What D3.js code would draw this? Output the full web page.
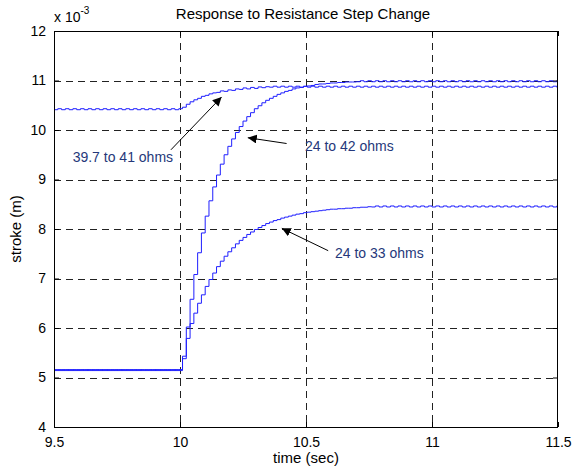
<!DOCTYPE html>
<html><head><meta charset="utf-8">
<script src="https://cdn.jsdelivr.net/npm/d3@7"></script>
<style>body{margin:0;background:#fff} svg{display:block;font-family:Arial,"Liberation Sans",sans-serif}</style>
</head><body><svg id="c" width="574" height="470"></svg>
<script>
// sample times (sec)
const times = [
9.5,9.515,9.53,9.545,9.56,9.575,9.59,9.605,9.62,9.635,
9.65,9.665,9.68,9.695,9.71,9.725,9.74,9.755,9.77,9.785,
9.8,9.815,9.83,9.845,9.86,9.875,9.89,9.905,9.92,9.935,
9.95,9.965,9.98,9.995,
10.01,10.025,10.04,10.055,10.07,10.085,
10.1,10.115,10.13,10.145,10.16,10.175,10.19,10.205,10.22,10.235,
10.25,10.265,10.28,10.295,10.31,10.325,10.34,10.355,10.37,10.385,
10.4,10.415,10.43,10.445,10.46,10.475,10.49,10.505,10.52,10.535,
10.55,10.565,10.58,10.595,10.61,10.625,10.64,10.655,10.67,10.685,
10.7,10.715,10.73,10.745,10.76,10.775,10.79,10.805,10.82,10.835,
10.85,10.865,10.88,10.895,10.91,10.925,10.94,10.955,10.97,10.985,
11,11.015,11.03,11.045,11.06,11.075,11.09,11.105,11.12,11.135,
11.15,11.165,11.18,11.195,11.21,11.225,11.24,11.255,11.27,11.285,
11.3,11.315,11.33,11.345,11.36,11.375,11.39,11.405,11.42,11.435,
11.45,11.465,11.48,11.495,
11.5];

// stroke values (x 10^-3 m)
const stroke39to41 = [
10.41,10.43,10.41,10.43,10.41,10.43,10.41,10.43,10.41,10.43,
10.41,10.43,10.41,10.43,10.41,10.43,10.41,10.43,10.41,10.43,
10.41,10.43,10.41,10.43,10.41,10.43,10.41,10.43,10.41,10.43,
10.41,10.43,10.41,10.43,
10.46,10.52,10.57,10.61,10.64,10.68,10.70,10.73,10.75,10.76,
10.79,10.78,10.81,10.80,10.83,10.82,10.85,10.83,10.86,10.84,10.87,
10.855,10.875,
10.865,10.885,10.865,10.885,10.865,10.885,10.865,10.885,10.865,10.885,
10.865,10.885,10.865,10.885,10.865,10.885,10.865,10.885,10.865,10.885,
10.865,10.885,10.865,10.885,10.865,10.885,10.865,10.885,10.865,10.885,
10.865,10.885,10.865,10.885,10.865,10.885,10.865,10.885,10.865,10.885,
10.865,10.885,10.865,10.885,10.865,10.885,10.865,10.885,10.865,10.885,
10.865,10.885,10.865,10.885,10.865,10.885,10.865,10.885,10.865,10.885,
10.865,10.885,10.865,10.885,10.865,10.885,10.865,10.885,10.865,10.885,
10.865,10.885,10.865,10.885,10.865,10.885,10.865,
10.875];

const stroke24to42 = [
5.14,5.16,5.14,5.16,5.14,5.16,5.14,5.16,5.14,5.16,
5.14,5.16,5.14,5.16,5.14,5.16,5.14,5.16,5.14,5.16,
5.14,5.16,5.14,5.16,5.14,5.16,5.14,5.16,5.14,5.16,
5.14,5.16,5.14,5.16,
5.38,6.02,6.58,7.08,7.52,7.92,8.26,8.57,8.85,9.09,
9.31,9.50,9.67,9.82,9.95,10.07,10.18,10.27,10.35,10.43,
10.49,10.55,10.60,10.64,10.68,10.72,10.75,10.78,10.80,10.83,
10.85,10.86,10.88,10.89,10.90,10.92,10.93,10.93,10.94,10.95,
10.95,10.96,10.96,10.97,10.97,10.97,
10.975,10.995,10.975,10.995,10.975,10.995,10.975,10.995,10.975,10.995,
10.975,10.995,10.975,10.995,10.975,10.995,10.975,10.995,10.975,10.995,
10.975,10.995,10.975,10.995,10.975,10.995,10.975,10.995,10.975,10.995,
10.975,10.995,10.975,10.995,10.975,10.995,10.975,10.995,10.975,10.995,
10.975,10.995,10.975,10.995,10.975,10.995,10.975,10.995,10.975,10.995,
10.975,10.995,10.975,10.995,
10.985];

const stroke24to33 = [
5.16,5.14,5.16,5.14,5.16,5.14,5.16,5.14,5.16,5.14,
5.16,5.14,5.16,5.14,5.16,5.14,5.16,5.14,5.16,5.14,
5.16,5.14,5.16,5.14,5.16,5.14,5.16,5.14,5.16,5.14,
5.16,5.14,5.16,5.14,
5.43,5.79,6.09,6.30,6.50,6.67,6.84,6.98,7.11,7.24,
7.35,7.45,7.54,7.62,7.70,7.77,7.83,7.89,7.94,7.99,
8.03,8.07,8.11,8.14,8.17,8.19,8.22,8.24,8.26,8.28,
8.30,8.31,8.33,8.34,8.35,8.36,8.37,8.38,8.39,8.40,
8.40,8.41,8.41,8.42,8.42,8.43,
8.43,8.44,8.44,8.45,
8.445,8.465,8.445,8.465,8.445,8.465,8.445,8.465,8.445,8.465,
8.445,8.465,8.445,8.465,8.445,8.465,8.445,8.465,8.445,8.465,
8.445,8.465,8.445,8.465,8.445,8.465,8.445,8.465,8.445,8.465,
8.445,8.465,8.445,8.465,8.445,8.465,8.445,8.465,8.445,8.465,
8.445,8.465,8.445,8.465,8.445,8.465,8.445,8.465,8.445,8.465,
8.455];

const seriesList = [stroke39to41, stroke24to42, stroke24to33];

const xTicks = [9.5, 10, 10.5, 11, 11.5];
const xTickLabels = ["9.5", "10", "10.5", "11", "11.5"];
const yTicks = [4, 5, 6, 7, 8, 9, 10, 11, 12];
const yTickLabels = ["4", "5", "6", "7", "8", "9", "10", "11", "12"];

// annotations: text anchor point and arrow tail -> tip (data units)
const annoLabels = ["39.7 to 41 ohms", "24 to 42 ohms", "24 to 33 ohms"];
const annoTextPos = [[9.574, 9.36], [10.496, 9.566], [10.615, 7.424]];
const annoArrowTail = [[9.964, 9.60], [10.423, 9.727], [10.588, 7.562]];
const annoArrowTip = [[10.165, 10.667], [10.269, 9.844], [10.404, 8.014]];

const svg = d3.select("#c");
const m = {l: 54, r: 558, t: 31, b: 427};
const x = d3.scaleLinear().domain([9.5, 11.5]).range([m.l, m.r]);
const y = d3.scaleLinear().domain([4, 12]).range([m.b, m.t]);

svg.append("rect").attr("width", 574).attr("height", 470).attr("fill", "#fff");
svg.append("rect").attr("x", m.l).attr("y", m.t).attr("width", m.r - m.l).attr("height", m.b - m.t).attr("fill", "#fff");

// grid
const grid = svg.append("g").attr("stroke", "#222").attr("stroke-width", 1).attr("stroke-dasharray", "7,5").attr("shape-rendering", "crispEdges");
grid.selectAll("line.gx").data(xTicks.slice(1, -1)).join("line")
  .attr("x1", d => Math.round(x(d)) + 0.5).attr("x2", d => Math.round(x(d)) + 0.5)
  .attr("y1", m.t).attr("y2", m.b);
grid.selectAll("line.gy").data(yTicks.slice(1, -1)).join("line")
  .attr("x1", m.l).attr("x2", m.r)
  .attr("y1", d => Math.round(y(d)) + 0.5).attr("y2", d => Math.round(y(d)) + 0.5);

// series
const line = d3.line().x(d => x(d[0])).y(d => y(d[1])).curve(d3.curveStepAfter);
const clip = svg.append("clipPath").attr("id", "pc").append("rect")
  .attr("x", m.l).attr("y", m.t).attr("width", m.r - m.l).attr("height", m.b - m.t);
svg.append("g").attr("clip-path", "url(#pc)").selectAll("path").data(seriesList).join("path")
  .attr("d", s => line(d3.zip(times, s)))
  .attr("fill", "none").attr("stroke", "#1f1fff").attr("stroke-width", 1);

// axes box
const axB = d3.axisBottom(x).tickValues(xTicks).tickFormat((d, i) => xTickLabels[i]).tickSize(-5).tickPadding(10);
const axL = d3.axisLeft(y).tickValues(yTicks).tickFormat((d, i) => yTickLabels[i]).tickSize(-5).tickPadding(8);
const axT = d3.axisTop(x).tickValues(xTicks).tickFormat("").tickSize(-5);
const axR = d3.axisRight(y).tickValues(yTicks).tickFormat("").tickSize(-5);
function style(g) {
  g.selectAll(".domain").attr("stroke", "#000").attr("stroke-width", 1);
  g.selectAll(".tick line").attr("stroke", "#000");
  g.selectAll("text").attr("font-size", 14).attr("fill", "#000").attr("font-family", "Arial, 'Liberation Sans', sans-serif");
}
svg.append("g").attr("transform", `translate(0,${m.b})`).call(axB).call(style);
svg.append("g").attr("transform", `translate(${m.l},0)`).call(axL).call(style);
svg.append("g").attr("transform", `translate(0,${m.t})`).call(axT).call(style);
svg.append("g").attr("transform", `translate(${m.r},0)`).call(axR).call(style);
svg.selectAll(".domain").attr("d", null);
svg.append("rect").attr("x", m.l + 0.5).attr("y", m.t + 0.5).attr("width", m.r - m.l - 1).attr("height", m.b - m.t)
  .attr("fill", "none").attr("stroke", "#000").attr("stroke-width", 1);

// exponent label
const ex = svg.append("text").attr("x", m.l).attr("y", 22).attr("font-size", 14).attr("fill", "#000");
ex.append("tspan").text("x 10");
ex.append("tspan").attr("dy", -8).attr("font-size", 10).text("-3");

// title & axis labels
svg.append("text").attr("x", 303).attr("y", 19).attr("text-anchor", "middle").attr("font-size", 15).text("Response to Resistance Step Change");
svg.append("text").attr("x", (m.l + m.r) / 2).attr("y", 463).attr("text-anchor", "middle").attr("font-size", 15).text("time (sec)");
svg.append("text").attr("transform", `translate(21,${(m.t + m.b) / 2}) rotate(-90)`).attr("text-anchor", "middle").attr("font-size", 15).text("stroke (m)");

// annotations
svg.append("defs").append("marker").attr("id", "ah").attr("viewBox", "0 0 10 10").attr("refX", 10).attr("refY", 5)
  .attr("markerWidth", 9).attr("markerHeight", 9).attr("markerUnits", "userSpaceOnUse").attr("orient", "auto")
  .append("path").attr("d", "M0,0 L10,5 L0,10 Z").attr("fill", "#000");
annoLabels.forEach((lab, i) => {
  svg.append("line")
    .attr("x1", x(annoArrowTail[i][0])).attr("y1", y(annoArrowTail[i][1]))
    .attr("x2", x(annoArrowTip[i][0])).attr("y2", y(annoArrowTip[i][1]))
    .attr("stroke", "#000").attr("stroke-width", 1).attr("marker-end", "url(#ah)");
  svg.append("text").attr("x", x(annoTextPos[i][0])).attr("y", y(annoTextPos[i][1]))
    .attr("font-size", 14).attr("fill", "#25387a").text(lab);
});
</script></body></html>
